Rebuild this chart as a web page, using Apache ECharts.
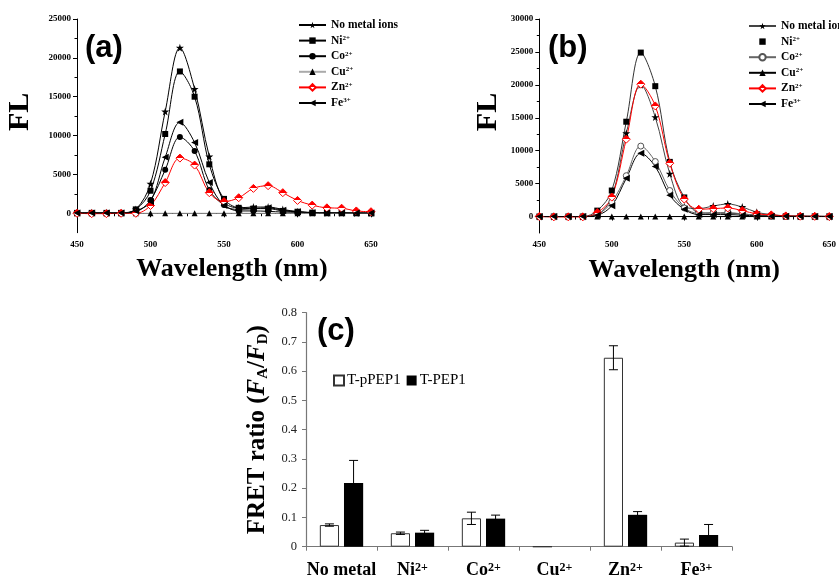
<!DOCTYPE html>
<html>
<head>
<meta charset="utf-8">
<script src="https://cdn.jsdelivr.net/npm/echarts@6/dist/echarts.min.js"></script>
<style>
html,body{margin:0;padding:0;background:#fff;}
#main{width:839px;height:581px;}
</style>
</head>
<body>
<div id="main"></div>
<script>
// ---------- DATA ----------
const wavelengths = [450,460,470,480,490,500,510,520,530,540,550,560,570,580,590,600,610,620,630,640,650];

// Panel (a) fluorescence spectra
const aNoMetal = [80,80,60,60,500,3800,13100,21300,16000,7300,1500,700,800,800,500,200,80,50,50,30,30];
const aNi      = [50,50,50,50,500,2900,10200,18250,15000,6300,1850,700,600,600,300,200,80,50,50,30,30];
const aCo      = [30,30,30,30,200,1700,5600,9800,8000,3000,1050,300,300,250,150,100,50,30,30,20,20];
const aCu      = [0,0,0,0,0,0,0,0,0,0,0,0,0,0,0,0,0,0,0,0,0];
const aZn      = [0,-50,-50,0,0,1000,3950,7100,6200,2650,1500,2000,3200,3550,2650,1650,1050,700,650,300,200];
const aFe      = [30,30,30,30,300,1500,7200,11700,9100,3950,1000,500,600,700,400,200,80,50,50,30,30];

// Panel (b) fluorescence spectra
const bNoMetal = [0,0,0,0,300,3000,12650,20000,15100,6500,1500,1200,1600,1900,1450,650,300,100,50,50,0];
const bNi      = [0,0,0,0,900,3950,14400,24900,19800,8300,2900,600,500,500,400,200,100,50,50,30,30];
const bCo      = [0,0,0,0,300,2200,6200,10700,8350,3950,1300,500,600,600,400,200,100,50,30,30,0];
const bCu      = [0,0,0,0,0,0,0,0,0,0,0,0,0,0,0,0,0,0,0,0,0];
const bZn      = [0,-50,-50,-50,600,2950,11750,20100,16800,8100,2650,1100,1200,1300,900,400,250,100,50,30,0];
const bFe      = [0,0,0,0,200,1650,5800,9600,7600,3250,1100,300,300,300,200,100,50,30,30,0,0];

// Tick labels
const xTicks  = [450,500,550,600,650];
const aYTicks = [0,5000,10000,15000,20000,25000];
const aYMinor = [2500,7500,12500,17500,22500];
const bYTicks = [0,5000,10000,15000,20000,25000,30000];
const bYMinor = [2500,7500,12500,17500,22500,27500];

// Legend names (series keys and labels)
const ionKeys   = ['none','Ni','Co','Cu','Zn','Fe'];
const ionLabels = ['No metal ions','Ni{sup|2+}','Co{sup|2+}','Cu{sup|2+}','Zn{sup|2+}','Fe{sup|3+}'];

// Panel (c) FRET ratio
const categories = ['No metal','Ni','Co','Cu','Zn','Fe'];
const charges    = ['','2+','2+','2+','2+','3+'];
const pPEP1      = [0.074,0.046,0.097,0,0.646,0.014];
const pPEP1Err   = [0.004,0.004,0.021,0,0.041,0.012];
const PEP1       = [0.218,0.048,0.096,0,0.109,0.040];
const PEP1Err    = [0.077,0.008,0.012,0,0.011,0.036];

// ---------- STYLE / BUILD ----------
const SERIF = '"Liberation Serif","Times New Roman",serif';
const SANS = '"Liberation Sans",Arial,sans-serif';
const STAR = 'path://M50,0 L61,35 L98,35 L68,57 L79,91 L50,70 L21,91 L32,57 L2,35 L39,35 Z';
const LTRI = 'path://M0,50 L100,0 L100,100 Z';
const znFill = new echarts.graphic.LinearGradient(0,0,0,1,[
  {offset:0,color:'#ff0000'},{offset:0.5,color:'#ff0000'},
  {offset:0.5,color:'#ffffff'},{offset:1,color:'#ffffff'}]);

function pts(arr){ return wavelengths.map((w,i)=>[w,arr[i]]); }

const styleA = {
  none:{symbol:STAR,size:8,color:'#000',line:'#000'},
  Ni:{symbol:'rect',size:6,color:'#000',line:'#000'},
  Co:{symbol:'circle',size:6,color:'#000',line:'#000'},
  Cu:{symbol:'triangle',size:6,color:'#000',line:'#aaa'},
  Zn:{symbol:'diamond',size:8,color:znFill,border:'#ff0000',line:'#ff0000'},
  Fe:{symbol:LTRI,size:7,color:'#000',line:'#000'}
};
const styleB = {
  none:{symbol:STAR,size:8,color:'#000',line:'#444'},
  Ni:{symbol:'rect',size:6,color:'#000',line:'#333',noLegendLine:true},
  Co:{symbol:'circle',size:6,color:'#fff',border:'#555',line:'#666'},
  Cu:{symbol:'triangle',size:6,color:'#000',line:'#000'},
  Zn:{symbol:'diamond',size:8,color:znFill,border:'#ff0000',line:'#ff0000'},
  Fe:{symbol:LTRI,size:7,color:'#000',line:'#000'}
};
const dataA = {none:aNoMetal,Ni:aNi,Co:aCo,Cu:aCu,Zn:aZn,Fe:aFe};
const dataB = {none:bNoMetal,Ni:bNi,Co:bCo,Cu:bCu,Zn:bZn,Fe:bFe};

function lineSeries(prefix, key, arr, st, xi, yi){
  return {
    type:'line', name:prefix+key, xAxisIndex:xi, yAxisIndex:yi,
    data:pts(arr), smooth:0.35, symbol:st.symbol, symbolSize:st.size,
    showAllSymbol:true,
    lineStyle:{color:st.line,width:1},
    itemStyle:{color:st.color,borderColor:st.border||st.color,borderWidth:st.border?1:0},
    emphasis:{disabled:true}, animation:false
  };
}

const series = [];
ionKeys.forEach(k=>series.push(lineSeries('a_',k,dataA[k],styleA[k],0,0)));
ionKeys.forEach(k=>series.push(lineSeries('b_',k,dataB[k],styleB[k],1,2)));

// bars
const BAR_W = 0.27, BAR_GAP = 0.26;
series.push({type:'bar',name:'T-pPEP1',xAxisIndex:2,yAxisIndex:4,data:pPEP1,
  barWidth:(BAR_W*100)+'%',barGap:(BAR_GAP*100)+'%',
  itemStyle:{color:'#fff',borderColor:'#333',borderWidth:1},animation:false});
series.push({type:'bar',name:'T-PEP1',xAxisIndex:2,yAxisIndex:4,data:PEP1,
  barWidth:(BAR_W*100)+'%',barGap:(BAR_GAP*100)+'%',
  itemStyle:{color:'#000'},animation:false});

function errSeries(vals, errs, sign){
  return {type:'custom',xAxisIndex:2,yAxisIndex:4,animation:false,z:5,
    data:vals.map((v,i)=>[i,v,errs[i]]),
    encode:{x:0,y:1},
    renderItem:function(params,api){
      const ci=api.value(0), v=api.value(1), e=api.value(2);
      if(!e) return null;
      const catW=api.size([1,0])[0];
      const x=api.coord([ci,v])[0]+sign*catW*BAR_W*(1+BAR_GAP)/2;
      const yt=api.coord([ci,v+e])[1], yb=api.coord([ci,v-e])[1];
      const hw=4.5, st={stroke:'#000',lineWidth:1};
      return {type:'group',children:[
        {type:'line',shape:{x1:x,y1:yt,x2:x,y2:yb},style:st},
        {type:'line',shape:{x1:x-hw,y1:yt,x2:x+hw,y2:yt},style:st},
        {type:'line',shape:{x1:x-hw,y1:yb,x2:x+hw,y2:yb},style:st}
      ]};
    }};
}
series.push(errSeries(pPEP1,pPEP1Err,-1));
series.push(errSeries(PEP1,PEP1Err,1));

const axisLineBlk = {show:true,lineStyle:{color:'#000',width:1}};
const tickLbl = {fontFamily:SERIF,fontWeight:'bold',fontSize:9,color:'#000',formatter:function(v){return String(v);}};
const bigName = {fontFamily:SERIF,fontWeight:'bold',fontSize:26,color:'#000'};

function specX(gi){
  return {type:'value',gridIndex:gi,min:450,max:650,interval:50,
    axisLine:axisLineBlk,axisTick:{show:true,length:4,lineStyle:{color:'#000'}},
    minorTick:{show:true,splitNumber:2,length:3,lineStyle:{color:'#000'}},
    splitLine:{show:false},minorSplitLine:{show:false},
    axisLabel:Object.assign({margin:7,customValues:xTicks},tickLbl),
    name:'Wavelength (nm)',nameLocation:'middle',nameGap:24,
    nameTextStyle:Object.assign({},bigName,{padding:gi===0?[0,0,0,16]:[0,0,0,0]})};
}
function specY(gi,max,ticks){
  return {type:'value',gridIndex:gi,min:-2500,max:max,position:'left',
    axisLine:axisLineBlk,
    axisTick:{show:true,length:4,customValues:ticks,lineStyle:{color:'#000'}},
    axisLabel:Object.assign({margin:6,customValues:ticks},tickLbl),
    splitLine:{show:false},
    name:'FL',nameLocation:'middle',nameGap:gi===0?42:36,nameRotate:90,
    nameTextStyle:Object.assign({},bigName,{fontSize:30,padding:[0,0,0,28]})};
}
function minorY(gi,max,minors){
  return {type:'value',gridIndex:gi,min:-2500,max:max,position:'left',
    axisLine:{show:false},axisLabel:{show:false},splitLine:{show:false},
    axisTick:{show:true,length:2.5,customValues:minors,lineStyle:{color:'#000'}}};
}

function legendFor(prefix,left,top,styles){
  return {show:true,orient:'vertical',left:left,top:top,
    itemWidth:27,itemHeight:8,itemGap:3.6,
    data:ionKeys.map(k=>styles[k].noLegendLine ? {name:prefix+k,lineStyle:{opacity:0}} : {name:prefix+k}),
    formatter:function(n){ return ionLabels[ionKeys.indexOf(n.slice(2))]; },
    textStyle:{fontFamily:SERIF,fontWeight:'bold',fontSize:11.5,color:'#000',lineHeight:12,
      rich:{sup:{fontFamily:SERIF,fontWeight:'bold',fontSize:7,verticalAlign:'top',lineHeight:12,padding:[0,0,5,0]}}},
    selectedMode:false};
}

const option = {
  backgroundColor:'#fff',
  animation:false,
  grid:[
    {left:77,top:19,width:294,height:213.7},
    {left:539.3,top:19,width:294,height:214},
    {left:306,top:312.7,width:426,height:234}
  ],
  xAxis:[
    specX(0), specX(1),
    {type:'category',gridIndex:2,data:categories,
      axisLine:{show:true,lineStyle:{color:'#777',width:1.2}},
      axisTick:{show:true,length:4,lineStyle:{color:'#777'}},
      axisLabel:{interval:0,hideOverlap:false,margin:15,fontFamily:SERIF,fontWeight:'bold',fontSize:18,color:'#000',
        formatter:function(v,i){ return charges[i]? v+'{sup|'+charges[i]+'}' : v; },
        rich:{sup:{fontFamily:SERIF,fontWeight:'bold',fontSize:12,verticalAlign:'top',padding:[0,0,6,0]}}}}
  ],
  yAxis:[
    specY(0,25000,aYTicks), minorY(0,25000,aYMinor),
    specY(1,30000,bYTicks), minorY(1,30000,bYMinor),
    {type:'value',gridIndex:2,min:0,max:0.8,interval:0.1,
      axisLine:{show:true,lineStyle:{color:'#777',width:1.2}},
      axisTick:{show:true,length:4,lineStyle:{color:'#777'}},
      splitLine:{show:false},
      axisLabel:{margin:9,fontFamily:SERIF,fontSize:12.5,color:'#222',
        formatter:function(v){ return String(Math.round(v*10)/10); }},
      name:'FRET ratio ({i|F}{sub|A}/{i|F}{sub|D})',nameLocation:'middle',nameGap:32,nameRotate:90,
      nameTextStyle:{fontFamily:SERIF,fontWeight:'bold',fontSize:25,color:'#000',
        rich:{i:{fontFamily:SERIF,fontWeight:'bold',fontStyle:'italic',fontSize:25},
              sub:{fontFamily:SERIF,fontWeight:'bold',fontSize:15,verticalAlign:'bottom',padding:[6,0,0,0]}}}}
  ],
  legend:[
    legendFor('a_',293,14,styleA),
    legendFor('b_',743,15,styleB),
    {show:true,left:328,top:368,orient:'horizontal',itemWidth:10,itemHeight:10,itemGap:6,
      data:[{name:'T-pPEP1',icon:'rect'},{name:'T-PEP1',icon:'rect'}],
      textStyle:{fontFamily:SERIF,fontSize:15,color:'#000',padding:[0,0,0,-2]},selectedMode:false}
  ],
  graphic:[
    {type:'text',left:85,top:33,style:{text:'(a)',font:'bold 31px '+SANS,fill:'#000'}},
    {type:'text',left:548,top:33,style:{text:'(b)',font:'bold 31px '+SANS,fill:'#000'}},
    {type:'text',left:317,top:316,style:{text:'(c)',font:'bold 31px '+SANS,fill:'#000'}}
  ],
  series:series
};

const chart = echarts.init(document.getElementById('main'),null,{renderer:'canvas'});
chart.setOption(option);
</script>
</body>
</html>
